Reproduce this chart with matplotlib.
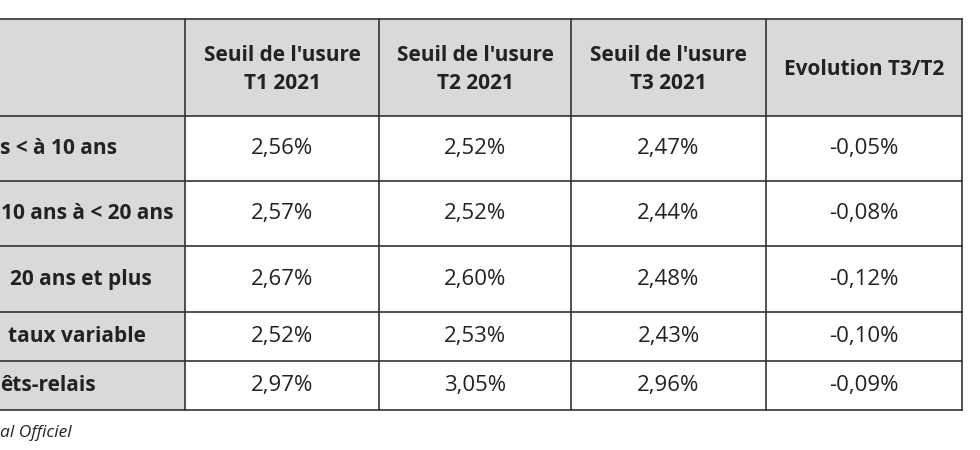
import matplotlib.pyplot as plt
from matplotlib.patches import Rectangle

# données du tableau
headers = ["Seuil de l'usure\nT1 2021", "Seuil de l'usure\nT2 2021", "Seuil de l'usure\nT3 2021", "Evolution T3/T2"]
row_labels = ["s < à 10 ans", "10 ans à < 20 ans", "20 ans et plus", "taux variable", "êts-relais"]
label_x = [0, 1, 10, 8, 0]
t1 = ["2,56%", "2,57%", "2,67%", "2,52%", "2,97%"]
t2 = ["2,52%", "2,52%", "2,60%", "2,53%", "3,05%"]
t3 = ["2,47%", "2,44%", "2,48%", "2,43%", "2,96%"]
evol = ["-0,05%", "-0,08%", "-0,12%", "-0,10%", "-0,09%"]
source = "al Officiel"

col_x = [-10, 185, 379, 571, 766, 962]
row_y = [19, 116, 181, 246, 312, 361, 410]
grey = "#d9d9d9"

plt.rcParams['font.family'] = 'Open Sans'
fig = plt.figure(figsize=(9.8, 4.5), dpi=100)
ax = fig.add_axes([0, 0, 1, 1])
ax.set_xlim(0, 980)
ax.set_ylim(450, 0)
ax.axis('off')

# fonds gris
ax.add_patch(Rectangle((col_x[0], row_y[0]), col_x[-1] - col_x[0], row_y[1] - row_y[0], color=grey, lw=0))
ax.add_patch(Rectangle((col_x[0], row_y[1]), col_x[1] - col_x[0], row_y[-1] - row_y[1], color=grey, lw=0))

# lignes
for y in row_y:
    ax.plot([col_x[0], col_x[-1]], [y, y], color='#333333', lw=1.2)
for x in col_x[1:]:
    ax.plot([x, x], [row_y[0], row_y[-1]], color='#333333', lw=1.2)

# en-têtes
for j, h in enumerate(headers):
    cx = (col_x[j + 1] + col_x[j + 2]) / 2
    ax.text(cx, (row_y[0] + row_y[1]) / 2 + 2, h, ha='center', va='center',
            fontsize=15, fontweight='bold', color='#222222', linespacing=1.45)

cols = [t1, t2, t3, evol]
for i in range(len(row_labels)):
    cy = (row_y[i + 1] + row_y[i + 2]) / 2
    ax.text(label_x[i], cy, row_labels[i], ha='left', va='center',
            fontsize=15, fontweight='bold', color='#222222')
    for j, c in enumerate(cols):
        cx = (col_x[j + 1] + col_x[j + 2]) / 2
        ax.text(cx, cy, c[i], ha='center', va='center', fontsize=16, color='#222222')

ax.text(0, 433, source, ha='left', va='center', fontsize=12.5, style='italic', color='#222222')

fig.savefig('out.png', dpi=100)
